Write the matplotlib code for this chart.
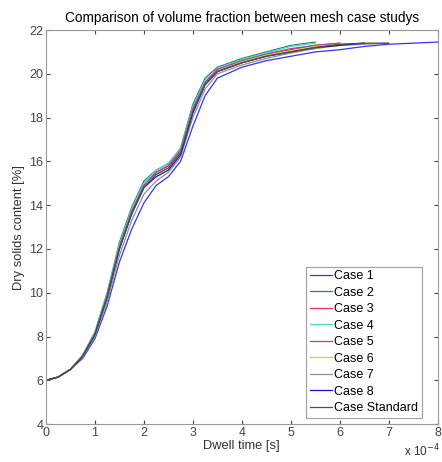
import matplotlib.pyplot as plt
import numpy as np

plt.rcParams['font.family'] = ['Liberation Sans', 'DejaVu Sans']

# dwell time grid (units of 1e-4 s)
t = [0, 0.25, 0.5, 0.75, 1.0, 1.25, 1.5, 1.75, 2.0, 2.25, 2.5, 2.75, 3.0,
     3.25, 3.5, 4.0, 4.5, 5.0, 5.5, 6.0, 6.5, 7.0, 7.5, 8.0]

# dry solids content [%], each case ends at its own time
case1 = [6.0, 6.15, 6.5, 7.0, 7.9, 9.4, 11.4, 12.9, 14.1, 14.9, 15.3, 16.0, 17.6,
         19.0, 19.8, 20.3, 20.6, 20.8, 21.0, 21.1, 21.25, 21.35, 21.4, 21.45]
case2 = [6.0, 6.15, 6.5, 7.15, 8.2, 10.0, 12.3, 13.9, 15.1, 15.6, 15.9, 16.6, 18.6,
         19.8, 20.3, 20.7, 21.0, 21.3, 21.45]
case3 = [6.0, 6.15, 6.5, 7.1, 8.15, 9.9, 12.1, 13.7, 14.9, 15.5, 15.8, 16.5, 18.4,
         19.6, 20.2, 20.6, 20.9, 21.1, 21.3, 21.4]
case4 = [6.0, 6.15, 6.5, 7.15, 8.2, 10.0, 12.2, 13.8, 15.0, 15.6, 15.9, 16.6, 18.5,
         19.7, 20.2, 20.65, 20.95, 21.25, 21.4]
case5 = [6.0, 6.15, 6.5, 7.1, 8.1, 9.9, 12.1, 13.7, 14.9, 15.5, 15.8, 16.5, 18.4,
         19.6, 20.2, 20.6, 20.9, 21.15, 21.3, 21.4]
case6 = [6.0, 6.15, 6.5, 7.1, 8.1, 9.8, 12.0, 13.6, 14.8, 15.4, 15.7, 16.4, 18.3,
         19.5, 20.1, 20.55, 20.85, 21.05, 21.25, 21.35, 21.4]
case7 = [6.0, 6.15, 6.5, 7.05, 8.0, 9.6, 11.7, 13.3, 14.5, 15.1, 15.5, 16.2, 18.0,
         19.3, 20.0, 20.4, 20.7, 20.95, 21.15, 21.3, 21.35, 21.4]
case8 = [6.0, 6.15, 6.5, 7.1, 8.1, 9.8, 12.0, 13.6, 14.8, 15.3, 15.6, 16.3, 18.2,
         19.5, 20.1, 20.5, 20.8, 21.0, 21.2, 21.3, 21.4]
case_std = [6.0, 6.15, 6.5, 7.1, 8.1, 9.8, 12.0, 13.6, 14.8, 15.4, 15.7, 16.4, 18.3,
            19.5, 20.1, 20.5, 20.8, 21.0, 21.2, 21.35, 21.4, 21.4]

labels = ['Case 1', 'Case 2', 'Case 3', 'Case 4', 'Case 5', 'Case 6', 'Case 7',
          'Case 8', 'Case Standard']
series = [case1, case2, case3, case4, case5, case6, case7, case8, case_std]
colors = ['#3333ff', '#1f8a6a', '#ff2a55', '#40e0c0', '#c030c0', '#c8e000',
          '#909090', '#1010e0', '#505030']

fig = plt.figure(figsize=(4.42, 4.62), dpi=100)
ax = fig.add_axes([0.104, 0.082, 0.886, 0.853])

for y, lab, c in zip(series, labels, colors):
    x = np.array(t[:len(y)]) * 1e-4
    ax.plot(x, y, color=c, lw=0.9, label=lab)

ax.set_xlim(0, 8e-4)
ax.set_ylim(4, 22)
ax.set_yticks(range(4, 23, 2))
ax.set_xticks(np.arange(0, 9) * 1e-4)
ax.ticklabel_format(axis='x', style='sci', scilimits=(-4, -4))
ax.xaxis.get_offset_text().set_visible(False)
ax.tick_params(direction='in', length=3, labelsize=9, colors='#444444',
               top=True, right=True, pad=2)
for s in ax.spines.values():
    s.set_color('#999999')
    s.set_linewidth(0.8)

fig.text(0.995, 0.005, r'x 10$^{-4}$', ha='right', va='bottom', fontsize=8.5,
         color='#333333')
ax.set_xlabel('Dwell time [s]', fontsize=9.3, color='#333333', labelpad=1)
ax.set_ylabel('Dry solids content [%]', fontsize=9.3, color='#333333', labelpad=3)
ax.set_title('Comparison of volume fraction between mesh case studys',
             fontsize=9.8, pad=6)

leg = ax.legend(loc='lower right', fontsize=9, frameon=True, fancybox=False,
                handlelength=1.8, handletextpad=0.15, borderpad=0.3,
                labelspacing=0.36, borderaxespad=0,
                bbox_to_anchor=(422 / 442, 1 - 418 / 462),
                bbox_transform=fig.transFigure)
leg.get_frame().set_edgecolor('#888888')
leg.get_frame().set_linewidth(0.8)

fig.savefig('out.png', dpi=100)
